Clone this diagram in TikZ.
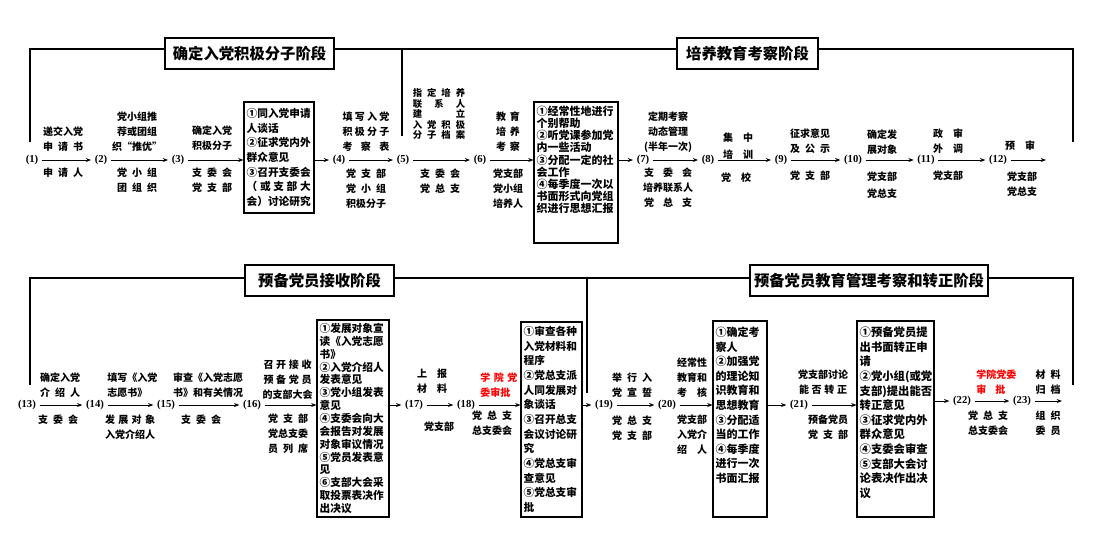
\documentclass[tikz,border=0pt]{standalone}
\usepackage{fontspec}
\setmainfont{Noto Sans CJK SC}
\newfontfamily\numfont{Liberation Serif}
\usetikzlibrary{arrows.meta}
\newcommand{\spreadto}[2]{{\spaceskip=0.1em plus 1fil\makebox[#1em][s]{#2}}}
\tikzset{lab/.style={font=\fontsize{7.5}{11.25}\selectfont\bfseries,align=center,inner sep=0pt},
	redlab/.style={lab,text=red},
	stepno/.style={font=\numfont\fontsize{8}{9}\selectfont\bfseries,inner sep=2.5pt},
	stagebox/.style 2 args={draw,line width=0.8pt,inner sep=2pt,font=\fontsize{#1}{#2}\selectfont\bfseries},
	phasebox/.style={draw,line width=0.8pt,minimum height=23.25pt,inner sep=0pt,font=\fontsize{11.5}{12}\selectfont\bfseries},
	phaseline/.style={line width=0.8pt}}

\begin{document}
\begin{tikzpicture}[x=0.75pt,y=-0.75pt,>={Stealth[length=4pt,width=3pt]},line width=0.6pt]
		\useasboundingbox (0,0) rectangle (1120,553);
		% phase titles and frames
		\node[phasebox,minimum width=126.75pt] (ph1) at (249.5,53.5) {确定入党积极分子阶段};
		\node[phasebox,minimum width=105.75pt] (ph2) at (747.5,53.5) {培养教育考察阶段};
		\node[phasebox,minimum width=111.75pt] (ph3) at (319.5,280.5) {预备党员接收阶段};
		\node[phasebox,minimum width=178.5pt] (ph4) at (869,280.5) {预备党员教育管理考察和转正阶段};
		\coordinate (ytop) at (0,49);
		\coordinate (ybot) at (0,278);
		\coordinate (tl) at (30,142);
		\coordinate (tr) at (1073,142);
		\coordinate (sep1) at (402,136);
		\coordinate (bl) at (30,385);
		\coordinate (br) at (1073,385);
		\coordinate (sep2) at (587,393);
		\draw[phaseline] (tl) |- (ph1.west |- ytop);
		\draw[phaseline] (ph1.east |- ytop) -- (ph2.west |- ytop);
		\draw[phaseline] (ph2.east |- ytop) -| (tr);
		\draw[phaseline] (sep1 |- ytop) -- (sep1);
		\draw[phaseline] (bl) |- (ph3.west |- ybot);
		\draw[phaseline] (ph3.east |- ybot) -- (ph4.west |- ybot);
		\draw[phaseline] (ph4.east |- ybot) -| (br);
		\draw[phaseline] (sep2 |- ybot) -- (sep2);
		% step numbers
		\begin{scope}[every node/.style={stepno}]
			\node (s1) at (32,160) {(1)};
			\node (s2) at (101,160) {(2)};
			\node (s3) at (178,160) {(3)};
			\node (s4) at (339,160) {(4)};
			\node (s5) at (403,160) {(5)};
			\node (s6) at (480,160) {(6)};
			\node (s7) at (643,160) {(7)};
			\node (s8) at (708,160) {(8)};
			\node (s9) at (781,160) {(9)};
			\node (s10) at (853,160) {(10)};
			\node (s11) at (926,160) {(11)};
			\node (s12) at (998,160) {(12)};
			\node (s13) at (27,405) {(13)};
			\node (s14) at (95,405) {(14)};
			\node (s15) at (166,405) {(15)};
			\node (s16) at (252,405) {(16)};
			\node (s17) at (414,405) {(17)};
			\node (s18) at (466,405) {(18)};
			\node (s19) at (604,405) {(19)};
			\node (s20) at (667,405) {(20)};
			\node (s21) at (799,405) {(21)};
			\node (s22) at (962,401) {(22)};
			\node (s23) at (1022,401) {(23)};
		\end{scope}
		\coordinate (e12) at (1046,160);
		\coordinate (e23) at (1062,401);
		% boxes
		\node[stagebox={8}{11}] (m1) at (279,157.5) {\parbox[c][79.25pt][c]{48.5pt}{①同入党申请\\人谈话\\②征求党内外\\群众意见\\③召开支委会\\\spreadto{6}{（ 或 支 部 大}\\会）讨论研究}};
		\node[stagebox={8.25}{9.1}] (m2) at (576,172.5) {\parbox[c][101.75pt][t]{59pt}{\vspace*{1pt}①经常性地进行\\个别帮助\\②听党课参加党\\内一些活动\\③分配一定的社\\会工作\\④每季度一次以\\书面形式向党组\\织进行思想汇报}};
		\node[stagebox={8}{9.64}] (m3) at (353,418.5) {\parbox[c][143.75pt][c]{50pt}{①发展对象宣\\读《入党志愿\\书》\\②入党介绍人\\发表意见\\③党小组发表\\意见\\④支委会向大\\会报告对发展\\对象审议情况\\⑤党员发表意\\见\\⑥支部大会采\\取投票表决作\\出决议}};
		\node[stagebox={8}{11}] (m4) at (551.5,419.5) {\parbox[c][142.25pt][c]{41.75pt}{①审查各种\\入党材料和\\程序\\②党总支派\\人同发展对\\象谈话\\③召开总支\\会议讨论研\\究\\④党总支审\\查意见\\⑤党总支审\\批}};
		\node[stagebox={8.25}{10.95}] (m5) at (740,419) {\parbox[c][143pt][t]{36.5pt}{\vspace*{2.5pt}①确定考\\察人\\②加强党\\的理论知\\识教育和\\思想教育\\③分配适\\当的工作\\④每季度\\进行一次\\书面汇报}};
		\node[stagebox={8.5}{10.95}] (m6) at (895.5,419) {\parbox[c][143pt][t]{53.75pt}{\vspace*{2.5pt}①预备党员提\\出书面转正申\\请\\②党小组(或党\\支部)提出能否\\转正意见\\③征求党内外\\群众意见\\④支委会审查\\⑤支部大会讨\\论表决作出决\\议}};
		% labels of the top row
		\node[lab] (a1) at (63,139.5) {递交入党\\\spreadto{4}{申 请 书}};
		\node[lab] (b1) at (63,173) {\spreadto{4}{申 请 人}};
		\node[lab] (a2) at (137,132) {党小组推\\荐或团组\\织“推优”};
		\node[lab] (b2) at (137,180.5) {\spreadto{4}{党 小 组}\\\spreadto{4}{团 组 织}};
		\node[lab] (a3) at (212,138.5) {确定入党\\积极分子};
		\node[lab] (b3) at (212,180.5) {\spreadto{4}{支 委 会}\\\spreadto{4}{党 支 部}};
		\node[lab] (a4) at (366,131.5) {\spreadto{4.7}{填 写 入 党}\\\spreadto{4.7}{积 极 分 子}\\\spreadto{4.7}{考 察 表}};
		\node[lab] (b4) at (366,188.5) {\spreadto{4}{党 支 部}\\\spreadto{4}{党 小 组}\\积极分子};
		\node[lab,font=\fontsize{7}{7.9}\selectfont\bfseries] (a5) at (439,114) {\spreadto{5.6}{指 定 培 养}\\\spreadto{5.6}{联 系 人}\\\spreadto{5.6}{建 立}\\\spreadto{5.6}{入 党 积 极}\\\spreadto{5.6}{分 子 档 案}};
		\node[lab] (b5) at (440,181) {\spreadto{4}{支 委 会}\\\spreadto{4}{党 总 支}};
		\node[lab] (a6) at (508,132) {\spreadto{2.4}{教 育}\\\spreadto{2.4}{培 养}\\\spreadto{2.4}{考 察}};
		\node[lab] (b6) at (508,188.5) {党支部\\党小组\\培养人};
		\node[lab] (a7) at (668,132) {定期考察\\动态管理\\(半年一次)};
		\node[lab] (b7) at (668,188) {\spreadto{4.8}{支 委 会}\\培养联系人\\\spreadto{4.8}{党 总 支}};
		\node[lab] (a8) at (738,146.5) {\spreadto{3}{集 中}\\[1.5pt]\spreadto{3}{培 训}};
		\node[lab] (b8) at (736,178) {\spreadto{3}{党 校}};
		\node[lab] (a9) at (810,141.5) {征求意见\\\spreadto{4}{及 公 示}};
		\node[lab] (b9) at (810,176) {\spreadto{4}{党 支 部}};
		\node[lab] (a10) at (882,142.5) {确定发\\展对象};
		\node[lab] (b10) at (882,185) {党支部\\[2pt]党总支};
		\node[lab] (a11) at (948,141.5) {\spreadto{3}{政 审}\\\spreadto{3}{外 调}};
		\node[lab] (b11) at (948,176) {党支部};
		\node[lab] (a12) at (1020,146) {\spreadto{3}{预 审}};
		\node[lab] (b12) at (1022,184.5) {党支部\\党总支};
		% labels of the bottom row
		\node[lab] (a13) at (60,385) {确定入党\\\spreadto{4}{介 绍 人}};
		\node[lab] (b13) at (58,420) {\spreadto{4}{支 委 会}};
		\node[lab,align=left,anchor=west] (a14) at (107,385) {填写《入党\\志愿书》};
		\node[lab] (b14) at (130,427.5) {\spreadto{5}{发 展 对 象}\\入党介绍人};
		\node[lab] (a15) at (208,385) {审查《入党志愿\\书》和有关情况};
		\node[lab] (b15) at (201,420) {\spreadto{4}{支 委 会}};
		\node[lab] (a16) at (287.5,379.5) {\spreadto{4.8}{召 开 接 收}\\\spreadto{4.8}{预 备 党 员}\\的支部大会};
		\node[lab] (b16) at (288,433.5) {\spreadto{4}{党 支 部}\\党总支委\\\spreadto{4}{员 列 席}};
		\node[lab] (a17) at (432,381) {\spreadto{3}{上 报}\\\spreadto{3}{材 料}};
		\node[lab] (b17) at (439,427) {党支部};
		\node[redlab,align=left,anchor=west] (a18) at (480,385) {\spreadto{3.7}{学 院 党}\\委审批};
		\node[lab] (b18) at (492,423.5) {\spreadto{4}{党 总 支}\\总支委会};
		\node[lab] (a19) at (632,385) {\spreadto{4}{举 行 入}\\\spreadto{4}{党 宣 誓}};
		\node[lab] (b19) at (632,428) {\spreadto{4}{党 总 支}\\\spreadto{4}{党 支 部}};
		\node[lab] (a20) at (692,378) {经常性\\教育和\\\spreadto{3}{考 核}};
		\node[lab] (b20) at (692,435) {党支部\\入党介\\\spreadto{3}{绍 人}};
		\node[lab] (a21) at (823,382) {党支部讨论\\\spreadto{4.8}{能 否 转 正}};
		\node[lab] (b21) at (828,427.5) {预备党员\\\spreadto{4}{党 支 部}};
		\node[redlab,align=left,anchor=west] (a22) at (976,382) {学院党委\\\spreadto{2.9}{审 批}};
		\node[lab] (b22) at (988,423.5) {\spreadto{4}{党 总 支}\\总支委会};
		\node[lab] (a23) at (1048,382) {\spreadto{2.5}{材 料}\\\spreadto{2.5}{归 档}};
		\node[lab] (b23) at (1048,423.5) {\spreadto{2.5}{组 织}\\\spreadto{2.5}{委 员}};
		% arrows
		\draw[->] (s1) -- (s2);
		\draw[->] (s2) -- (s3);
		\draw[->] (s3) -- (s3 -| m1.west);
		\draw[->] (m1.east |- s4) -- (s4);
		\draw[->] (s4) -- (s5);
		\draw[->] (s5) -- (s6);
		\draw[->] (s6) -- (s6 -| m2.west);
		\draw[->] (m2.east |- s7) -- (s7);
		\draw[->] (s7) -- (s8);
		\draw[->] (s8) -- (s9);
		\draw[->] (s9) -- (s10);
		\draw[->] (s10) -- (s11);
		\draw[->] (s11) -- (s12);
		\draw[->] (s12) -- (e12);
		\draw[->] (s13) -- (s14);
		\draw[->] (s14) -- (s15);
		\draw[->] (s15) -- (s16);
		\draw[->] (s16) -- (s16 -| m3.west);
		\draw[->] (m3.east |- s17) -- (s17);
		\draw[->] (s17) -- (s18);
		\draw[->] (s18) -- (s18 -| m4.west);
		\draw[->] (m4.east |- s19) -- (s19);
		\draw[->] (s19) -- (s20);
		\draw[->] (s20) -- (s20 -| m5.west);
		\draw[->] (m5.east |- s21) -- (s21);
		\draw[->] (s21) -- (s21 -| m6.west);
		\draw[->] (m6.east |- s22) -- (s22);
		\draw[->] (s22) -- (s23);
		\draw[->] (s23) -- (e23);
	\end{tikzpicture}
\end{document}
